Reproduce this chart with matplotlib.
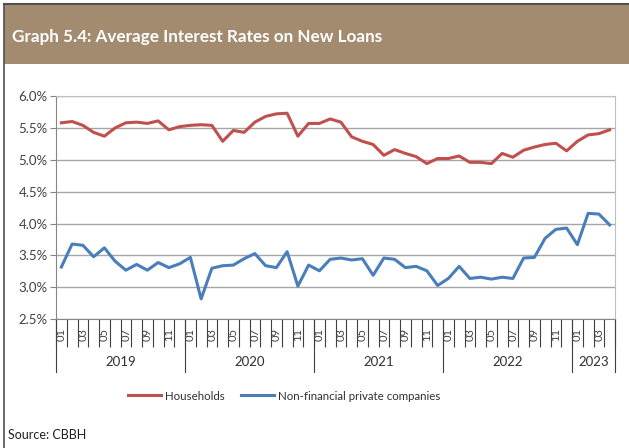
import matplotlib
matplotlib.use("Agg")
import matplotlib.pyplot as plt
from matplotlib.lines import Line2D
from matplotlib.patches import Rectangle
from matplotlib.transforms import blended_transform_factory
from matplotlib.ticker import FixedLocator, FuncFormatter

plt.rcParams['font.family'] = ['Lato', 'DejaVu Sans']

# ---- data ----
title = "Graph 5.4: Average Interest Rates on New Loans"
source = "Source: CBBH"
series_names = ["Households", "Non-financial private companies"]
years = ["2019", "2020", "2021", "2022", "2023"]
months_per_year = [12, 12, 12, 12, 4]

households = [5.58, 5.60, 5.54, 5.43, 5.37, 5.50, 5.58, 5.59, 5.57, 5.61, 5.47, 5.52,
              5.54, 5.55, 5.54, 5.29, 5.46, 5.43, 5.59, 5.68, 5.72, 5.73, 5.37, 5.57,
              5.57, 5.64, 5.59, 5.36, 5.29, 5.24, 5.07, 5.16, 5.10, 5.05, 4.94, 5.02,
              5.02, 5.06, 4.96, 4.96, 4.94, 5.10, 5.04, 5.15, 5.20, 5.24, 5.26, 5.14,
              5.29, 5.39, 5.41, 5.47]
companies = [3.32, 3.68, 3.66, 3.48, 3.62, 3.41, 3.27, 3.36, 3.27, 3.39, 3.31, 3.37,
             3.47, 2.82, 3.30, 3.34, 3.35, 3.45, 3.53, 3.34, 3.31, 3.56, 3.02, 3.35,
             3.26, 3.44, 3.46, 3.43, 3.45, 3.19, 3.46, 3.44, 3.31, 3.33, 3.26, 3.03,
             3.14, 3.33, 3.14, 3.16, 3.13, 3.16, 3.14, 3.46, 3.47, 3.77, 3.91, 3.93,
             3.67, 4.16, 4.15, 3.98]
y_ticks = [2.5, 3.0, 3.5, 4.0, 4.5, 5.0, 5.5, 6.0]

month_labels = []
for n in months_per_year:
    for m in range(1, n + 1):
        month_labels.append(f"{m:02d}")

W, H = 629, 448
fig = plt.figure(figsize=(W / 100, H / 100), dpi=100)
fig.patch.set_facecolor("white")

# title bar
fig.add_artist(Rectangle((4 / W, 1 - 64 / H), 1 - 4 / W, 60 / H, transform=fig.transFigure,
                         facecolor="#A38B70", edgecolor="none", zorder=0))
fig.add_artist(Line2D([4 / W, 1], [1 - 4 / H, 1 - 4 / H], transform=fig.transFigure,
                      color="#505050", lw=1.5))
fig.add_artist(Line2D([4 / W, 4 / W], [0, 1 - 4 / H], transform=fig.transFigure,
                      color="#505050", lw=1.2))
fig.text(12 / W, 1 - 37 / H, title, color="white", fontsize=12.3, fontweight="bold",
         va="center", ha="left")

ax = fig.add_axes([56 / W, 1 - 319.3 / H, (615 - 56) / W, (319.3 - 96) / H])
x = list(range(len(households)))
red, blue = "#C0504D", "#4A7EBB"
ax.plot(x, households, color=red, lw=2.2, label=series_names[0], zorder=3)
ax.plot(x, companies, color=blue, lw=2.2, label=series_names[1], zorder=3)

ax.set_xlim(-0.5, len(households) - 0.5)
ax.set_ylim(2.5, 6.0)
ax.set_yticks(y_ticks)
ax.yaxis.set_major_formatter(FuncFormatter(lambda v, p: f"{v:.1f}%"))
ax.grid(axis="y", color="#A6A6A6", lw=1)
ax.set_axisbelow(True)
for s in ["top", "right"]:
    ax.spines[s].set_color("#BFBFBF")
for s in ["left", "bottom"]:
    ax.spines[s].set_color("#868686")
ax.tick_params(axis="y", length=4, color="#868686", labelsize=9.5, labelcolor="#404040", pad=2)

# x ticks: boundaries as minor ticks, labels on odd months
ax.xaxis.set_minor_locator(FixedLocator([i - 0.5 for i in range(len(households) + 1)]))
lab_pos = [i for i, l in enumerate(month_labels) if int(l) % 2 == 1]
ax.set_xticks(lab_pos)
ax.set_xticklabels([month_labels[i] for i in lab_pos], rotation=90)
ax.tick_params(axis="x", which="major", length=0, pad=6.5, labelsize=8, labelcolor="#404040")
ax.tick_params(axis="x", which="minor", length=20, color="#404040", width=0.8)

tr = blended_transform_factory(ax.transData, ax.transAxes)
ah = 319.3 - 96
start = 0
bounds = [0]
for n in months_per_year:
    start += n
    bounds.append(start)
for b in bounds:
    ax.plot([b - 0.5, b - 0.5], [0, -53 / ah], transform=tr, color="#404040", lw=0.8,
            clip_on=False)
for i, yname in enumerate(years):
    c = (bounds[i] + bounds[i + 1] - 1) / 2
    ax.text(c, -43 / ah, yname, transform=tr, ha="center", va="center", fontsize=9.5,
            color="#303030")

leg = fig.legend(loc="center", bbox_to_anchor=(284 / W, 1 - 396 / H), ncol=2, frameon=False,
                 fontsize=8.3, handlelength=2.9, columnspacing=1.4, handletextpad=0.3)
for t in leg.get_texts():
    t.set_color("#303030")

fig.text(8 / W, 1 - 435 / H, source, fontsize=9.0, color="#202020", va="center", ha="left")

fig.savefig("out.png", dpi=100)
